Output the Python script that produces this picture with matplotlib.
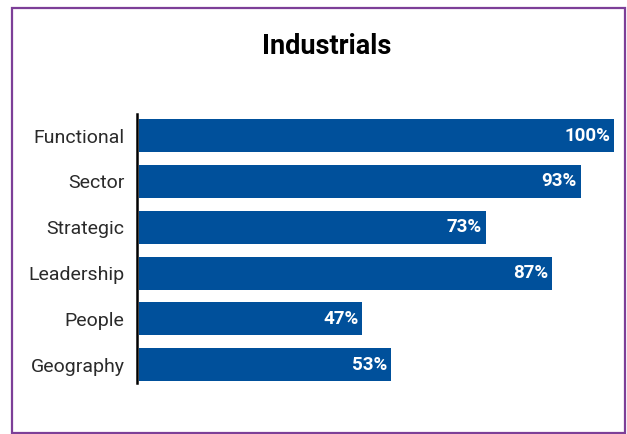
"""Horizontal bar chart: Industrials.
"""
import matplotlib
matplotlib.use("Agg")
import matplotlib.pyplot as plt
from matplotlib.patches import Rectangle

plt.rcParams['font.family'] = ['Roboto', 'DejaVu Sans']

categories = ['Functional', 'Sector', 'Strategic', 'Leadership', 'People', 'Geography']
values = [100, 93, 73, 87, 47, 53]

W, H = 627, 434
fig = plt.figure(figsize=(W / 100, H / 100), dpi=100)

# axes placed in pixel terms
left, right, top, bottom = 139, 614, 114, 383
ax = fig.add_axes([left / W, 1 - bottom / H, (right - left) / W, (bottom - top) / H])

y = list(range(len(categories)))
ax.barh(y, values, height=0.72, color='#00509b')
ax.set_xlim(0, 100)
ax.set_ylim(5.40, -0.47)

for yi, v in zip(y, values):
    ax.text(v - 0.8, yi, f'{v}%', ha='right', va='center',
            color='white', fontsize=13.5, fontweight='bold')

ax.set_yticks(y)
ax.set_yticklabels(categories)
ax.tick_params(axis='y', length=0, pad=9, labelsize=14, labelcolor='#2a2a2a')
for lbl in ax.get_yticklabels():
    lbl.set_fontweight('normal')
    lbl.set_fontstretch('normal')
ax.set_xticks([])
for s in ['top', 'right', 'bottom']:
    ax.spines[s].set_visible(False)
ax.spines['left'].set_linewidth(1.8)
ax.spines['left'].set_color('black')
ax.spines['left'].set_position(('outward', 1.5))

fig.text(327 / W, 1 - 47 / H, 'Industrials', ha='center', va='center',
         fontsize=19.5, fontweight='bold', color='black')

# purple frame
fig.patches.append(Rectangle((11.5 / W, 1 - 432.5 / H), 613.5 / W, 425 / H,
                             transform=fig.transFigure, fill=False,
                             edgecolor='#7d3f98', linewidth=1.6))

fig.savefig('out.png', dpi=100)
